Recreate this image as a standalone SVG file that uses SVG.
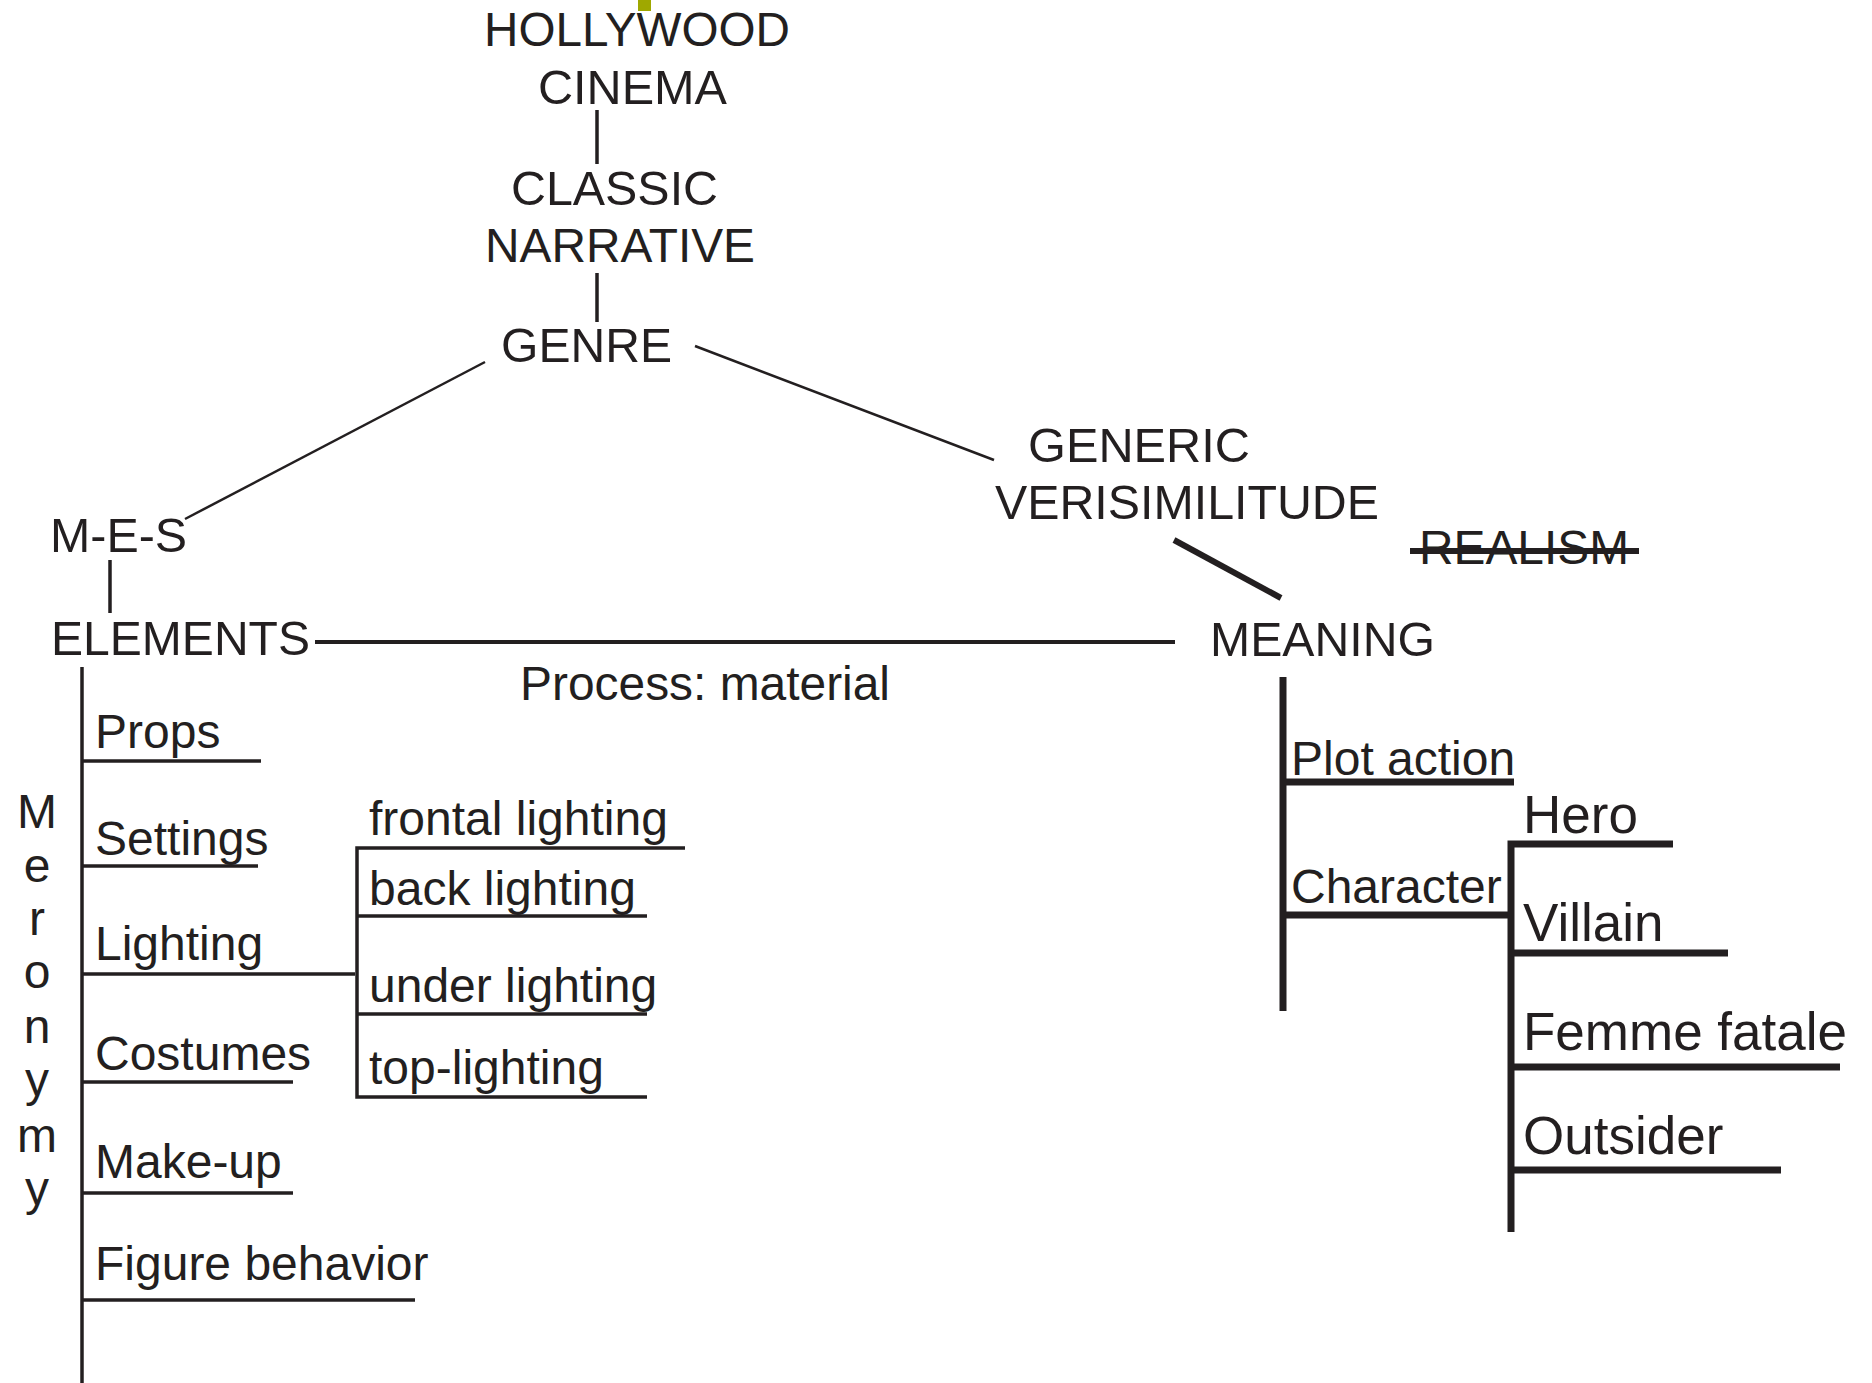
<svg xmlns="http://www.w3.org/2000/svg" width="1872" height="1383" viewBox="0 0 1872 1383">
<style>
.t{font-family:"Liberation Sans",Arial,Helvetica,sans-serif;font-size:48px;fill:#231f20}
.b{font-size:53px}
.ln{stroke:#231f20;fill:none;stroke-linecap:butt}
.w2{stroke-width:2.5}
.w3{stroke-width:3.5}
.w4{stroke-width:4}
.w6{stroke-width:6}
.w7{stroke-width:7}
</style>
<rect width="1872" height="1383" fill="#ffffff"/>
<rect x="638" y="0" width="13" height="11" fill="#9fa800"/>
<g id="connectors">
  <line class="ln w3" x1="597" y1="110" x2="597" y2="164"/>
  <line class="ln w3" x1="597" y1="273" x2="597" y2="322"/>
  <line class="ln w2" x1="485" y1="362" x2="185" y2="519"/>
  <line class="ln w2" x1="695" y1="346" x2="994" y2="460"/>
  <line class="ln w6" x1="1174" y1="540" x2="1281" y2="598"/>
  <line class="ln w3" x1="110" y1="560" x2="110" y2="613"/>
  <line class="ln w4" x1="315" y1="642" x2="1175" y2="642"/>
  <line class="ln w3" x1="82" y1="667" x2="82" y2="1383"/>
  <line class="ln w3" x1="82" y1="761" x2="261" y2="761"/>
  <line class="ln w3" x1="82" y1="866" x2="258" y2="866"/>
  <line class="ln w3" x1="82" y1="974" x2="355" y2="974"/>
  <line class="ln w3" x1="82" y1="1082" x2="293" y2="1082"/>
  <line class="ln w3" x1="82" y1="1193" x2="293" y2="1193"/>
  <line class="ln w3" x1="82" y1="1300" x2="415" y2="1300"/>
  <polyline class="ln w3" points="685,848 357,848 357,1097 647,1097"/>
  <line class="ln w3" x1="357" y1="916" x2="647" y2="916"/>
  <line class="ln w3" x1="357" y1="1014" x2="647" y2="1014"/>
  <line class="ln w7" x1="1283" y1="677" x2="1283" y2="1011"/>
  <line class="ln w7" x1="1283" y1="782" x2="1514" y2="782"/>
  <line class="ln w7" x1="1283" y1="915" x2="1511" y2="915"/>
  <polyline class="ln w7" points="1673,844 1511,844 1511,1232"/>
  <line class="ln w7" x1="1511" y1="953" x2="1728" y2="953"/>
  <line class="ln w7" x1="1511" y1="1067" x2="1840" y2="1067"/>
  <line class="ln w7" x1="1511" y1="1170" x2="1781" y2="1170"/>
</g>
<g id="hollywood-cinema">
  <text class="t" x="484" y="46" textLength="306" lengthAdjust="spacingAndGlyphs">HOLLYWOOD</text>
  <text class="t" x="538" y="104" textLength="189" lengthAdjust="spacingAndGlyphs">CINEMA</text>
</g>
<g id="classic-narrative">
  <text class="t" x="511" y="205" textLength="207" lengthAdjust="spacingAndGlyphs">CLASSIC</text>
  <text class="t" x="485" y="262" textLength="270" lengthAdjust="spacingAndGlyphs">NARRATIVE</text>
</g>
<g id="genre">
  <text class="t" x="501" y="362" textLength="171" lengthAdjust="spacingAndGlyphs">GENRE</text>
</g>
<g id="generic-verisimilitude">
  <text class="t" x="1028" y="462" textLength="222" lengthAdjust="spacingAndGlyphs">GENERIC</text>
  <text class="t" x="995" y="519" textLength="384" lengthAdjust="spacingAndGlyphs">VERISIMILITUDE</text>
</g>
<g id="realism">
  <text class="t" x="1419" y="564" textLength="210" lengthAdjust="spacingAndGlyphs">REALISM</text>
  <line class="ln w6" x1="1410" y1="551" x2="1639" y2="551"/>
</g>
<g id="mes">
  <text class="t" x="50" y="552" textLength="137" lengthAdjust="spacingAndGlyphs">M-E-S</text>
</g>
<g id="elements">
  <text class="t" x="51" y="655" textLength="259" lengthAdjust="spacingAndGlyphs">ELEMENTS</text>
</g>
<g id="process-label">
  <text class="t" x="520" y="700" textLength="370" lengthAdjust="spacingAndGlyphs">Process: material</text>
</g>
<g id="meaning">
  <text class="t" x="1210" y="656" textLength="225" lengthAdjust="spacingAndGlyphs">MEANING</text>
</g>
<g id="meronymy">
  <text class="t" x="37" y="828" text-anchor="middle">M</text>
  <text class="t" x="37" y="882" text-anchor="middle">e</text>
  <text class="t" x="37" y="935" text-anchor="middle">r</text>
  <text class="t" x="37" y="988" text-anchor="middle">o</text>
  <text class="t" x="37" y="1043" text-anchor="middle">n</text>
  <text class="t" x="37" y="1096" text-anchor="middle">y</text>
  <text class="t" x="37" y="1152" text-anchor="middle">m</text>
  <text class="t" x="37" y="1205" text-anchor="middle">y</text>
</g>
<g id="props"><text class="t" x="95" y="748">Props</text></g>
<g id="settings"><text class="t" x="95" y="855">Settings</text></g>
<g id="lighting"><text class="t" x="95" y="960">Lighting</text></g>
<g id="costumes"><text class="t" x="95" y="1070">Costumes</text></g>
<g id="make-up"><text class="t" x="95" y="1178">Make-up</text></g>
<g id="figure-behavior"><text class="t" x="95" y="1280">Figure behavior</text></g>
<g id="frontal-lighting"><text class="t" x="369" y="835">frontal lighting</text></g>
<g id="back-lighting"><text class="t" x="369" y="905">back lighting</text></g>
<g id="under-lighting"><text class="t" x="369" y="1002">under lighting</text></g>
<g id="top-lighting"><text class="t" x="369" y="1084">top-lighting</text></g>
<g id="plot-action"><text class="t" x="1291" y="775">Plot action</text></g>
<g id="character"><text class="t" x="1291" y="903">Character</text></g>
<g id="hero"><text class="t b" x="1523" y="833">Hero</text></g>
<g id="villain"><text class="t b" x="1523" y="941">Villain</text></g>
<g id="femme-fatale"><text class="t b" x="1523" y="1050">Femme fatale</text></g>
<g id="outsider"><text class="t b" x="1523" y="1154">Outsider</text></g>
</svg>
